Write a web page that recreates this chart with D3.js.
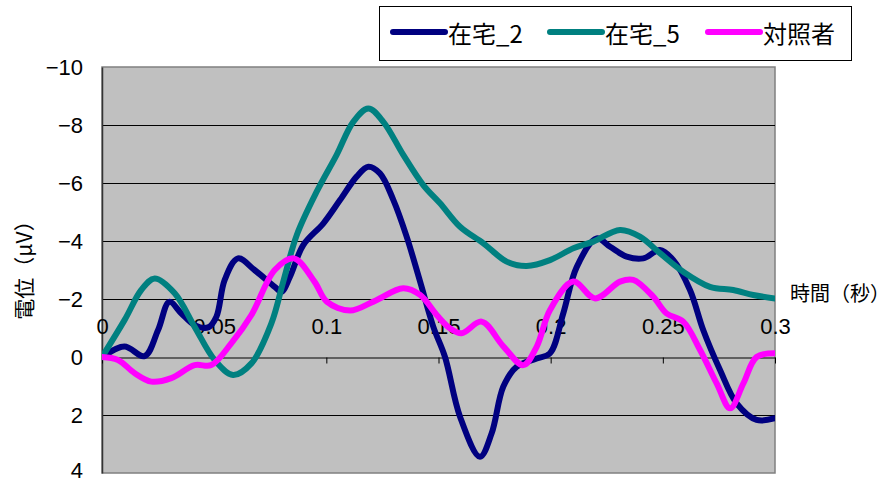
<!DOCTYPE html>
<html>
<head>
<meta charset="utf-8">
<script src="https://cdn.jsdelivr.net/npm/d3@7"></script>
<style>
  body { margin: 0; background: #fff; }
  svg { display: block; }
</style>
</head>
<body>
<svg id="chart" width="892" height="483"></svg>
<script>
// Series labels and colours
const seriesNames = ["在宅_2", "在宅_5", "対照者"];
const seriesColors = ["#000080", "#008080", "#ff00ff"];

// 在宅_2 : time (s) / potential (µV)
const times2 = [0, 0.010, 0.019, 0.025, 0.030, 0.0354, 0.0413, 0.0473, 0.051, 0.0547, 0.0606, 0.068, 0.077, 0.080,
  0.0838, 0.0897, 0.0987, 0.1061, 0.1135, 0.1187, 0.1239, 0.1299, 0.1358, 0.1418, 0.1477, 0.1529, 0.1596,
  0.1685, 0.1737, 0.1789, 0.1849, 0.1938, 0.1997, 0.2056, 0.2116, 0.2205, 0.2265, 0.2339, 0.2413, 0.2487,
  0.2547, 0.2621, 0.268, 0.2755, 0.2829, 0.2918, 0.300];
const vals2 = [0, -0.36, -0.03, -0.93, -1.9, -1.5, -1.1, -1.02, -1.39, -2.66, -3.4, -3.0, -2.42, -2.25,
  -2.77, -3.86, -4.61, -5.41, -6.22, -6.56, -6.33, -5.41, -4.15, -2.6, -1.04, 0.0, 2.06,
  3.44, 2.63, 1.02, 0.33, 0.05, -0.13, -1.5, -3.1, -4.09, -3.8, -3.46, -3.4, -3.69,
  -3.34, -2.31, -0.93, 0.45, 1.6, 2.17, 2.11];

// 在宅_5
const times5 = [0, 0.0101, 0.0175, 0.0235, 0.0324, 0.0413, 0.0502, 0.0584, 0.0666, 0.0755, 0.0808, 0.0868,
  0.0957, 0.1046, 0.112, 0.1187, 0.1254, 0.1343, 0.1432, 0.1507, 0.1596, 0.170, 0.1804, 0.1893, 0.1997,
  0.2101, 0.219, 0.2309, 0.2398, 0.2487, 0.2591, 0.271, 0.2814, 0.2903, 0.300];
const vals5 = [0, -1.28, -2.31, -2.71, -2.2, -1.04, 0.1, 0.62, 0.22, -1.16, -2.6, -4.2,
  -5.7, -6.97, -8.11, -8.57, -8.11, -6.97, -5.93, -5.3, -4.49, -3.92, -3.29, -3.14, -3.34,
  -3.75, -3.98, -4.38, -4.15, -3.58, -2.94, -2.42, -2.31, -2.14, -2.02];

// 対照者
const timesCtrl = [0, 0.0071, 0.0146, 0.022, 0.0309, 0.0413, 0.0487, 0.0576, 0.0666, 0.077, 0.0855, 0.0947,
  0.1002, 0.1106, 0.121, 0.1343, 0.1418, 0.1492, 0.1551, 0.1603, 0.1692, 0.179, 0.1878, 0.1938, 0.1997,
  0.2101, 0.2198, 0.2309, 0.2368, 0.2457, 0.2517, 0.2591, 0.2666, 0.274, 0.280, 0.2859, 0.2918, 0.300];
const valsCtrl = [0, 0.1, 0.56, 0.85, 0.73, 0.28, 0.28, -0.47, -1.45, -3.0, -3.4, -2.6,
  -1.91, -1.6, -1.91, -2.37, -2.14, -1.45, -0.99, -0.82, -1.22, -0.36, 0.28, -0.36, -1.62,
  -2.6, -2.02, -2.6, -2.66, -2.08, -1.5, -1.22, -0.24, 0.91, 1.77, 0.91, 0, -0.13];

// Axis ticks
const xTicks = [0, 0.05, 0.1, 0.15, 0.2, 0.25, 0.3];
const xTickLabels = ["0", "0.05", "0.1", "0.15", "0.2", "0.25", "0.3"];
const yTicks = [-10, -8, -6, -4, -2, 0, 2, 4];
const yTickLabels = ["−10", "−8", "−6", "−4", "−2", "0", "2", "4"];

const xTitle = "時間（秒）";
const yTitle = "電位（μV）";

const series = [
  { name: seriesNames[0], color: seriesColors[0], t: times2, v: vals2 },
  { name: seriesNames[1], color: seriesColors[1], t: times5, v: vals5 },
  { name: seriesNames[2], color: seriesColors[2], t: timesCtrl, v: valsCtrl }
];

const svg = d3.select("#chart");
const plot = { left: 102, right: 775, top: 67, bottom: 473 };

const x = d3.scaleLinear().domain([0, 0.3]).range([plot.left, plot.right]);
const y = d3.scaleLinear().domain([-10, 4]).range([plot.top, plot.bottom]);

const fontLatin = "'Liberation Sans', Arial, sans-serif";
const fontCJK = "'Noto Sans CJK JP', 'Noto Sans', sans-serif";

// Plot background
svg.append("rect")
  .attr("x", plot.left).attr("y", plot.top)
  .attr("width", plot.right - plot.left).attr("height", plot.bottom - plot.top)
  .attr("fill", "#c0c0c0")
  .attr("stroke", "#808080").attr("stroke-width", 1.5);

// Horizontal gridlines
svg.append("g")
  .selectAll("line")
  .data(yTicks.filter(d => d !== -10 && d !== 4 && d !== 0))
  .join("line")
  .attr("x1", plot.left).attr("x2", plot.right)
  .attr("y1", d => Math.round(y(d)) + 0.5).attr("y2", d => Math.round(y(d)) + 0.5)
  .attr("stroke", "#000").attr("stroke-width", 1);

// Y axis
const yAxis = svg.append("g")
  .attr("transform", `translate(${plot.left},0)`)
  .call(d3.axisLeft(y).tickValues(yTicks).tickFormat((d, i) => yTickLabels[i]).tickSize(0).tickPadding(19));
yAxis.select(".domain").attr("stroke", "#333").attr("stroke-width", 1.5);
yAxis.selectAll("text")
  .attr("font-family", fontLatin).attr("font-size", 22).attr("fill", "#000")
  .attr("dy", d => d === 4 ? "0.2em" : "0.36em");

// X axis along the zero line, labels above it
const xAxis = svg.append("g")
  .attr("transform", `translate(0,${Math.round(y(0)) + 0.5})`)
  .call(d3.axisBottom(x).tickValues(xTicks).tickFormat((d, i) => xTickLabels[i]).tickSize(6).tickSizeOuter(0));
xAxis.select(".domain").attr("stroke", "#000").attr("stroke-width", 1);
xAxis.selectAll(".tick line").attr("stroke", "#000");
xAxis.selectAll("text")
  .attr("font-family", fontLatin).attr("font-size", 22).attr("fill", "#000")
  .attr("y", -24).attr("dy", 0);

// Lines
svg.append("clipPath").attr("id", "plotClip")
  .append("rect")
  .attr("x", plot.left).attr("y", plot.top)
  .attr("width", plot.right - plot.left).attr("height", plot.bottom - plot.top);

const line = d3.line()
  .x(d => x(d[0]))
  .y(d => y(d[1]))
  .curve(d3.curveCatmullRom.alpha(0.5));

svg.append("g").attr("clip-path", "url(#plotClip)")
  .selectAll("path")
  .data(series)
  .join("path")
  .attr("d", s => line(s.t.map((t, i) => [t, s.v[i]])))
  .attr("fill", "none")
  .attr("stroke", s => s.color)
  .attr("stroke-width", 6)
  .attr("stroke-linejoin", "round")
  .attr("stroke-linecap", "round");

// Axis titles
svg.append("text")
  .attr("transform", "translate(23,265) rotate(-90)")
  .attr("text-anchor", "middle").attr("dominant-baseline", "central")
  .attr("font-family", fontCJK).attr("font-size", 21).attr("fill", "#000")
  .text(yTitle);

svg.append("text")
  .attr("x", 790).attr("y", 292)
  .attr("dominant-baseline", "central")
  .attr("font-family", fontCJK).attr("font-size", 20).attr("fill", "#000")
  .text(xTitle);

// Legend
const legend = svg.append("g");
legend.append("rect")
  .attr("x", 379.5).attr("y", 6.5).attr("width", 472).attr("height", 54)
  .attr("fill", "#fff").attr("stroke", "#000").attr("stroke-width", 1);

const legendX = [393, 550, 708];
series.forEach((s, i) => {
  const g = legend.append("g").attr("transform", `translate(${legendX[i]},32)`);
  g.append("line")
    .attr("x1", 0).attr("x2", 52).attr("y1", 0).attr("y2", 0)
    .attr("stroke", s.color).attr("stroke-width", 6).attr("stroke-linecap", "round");
  g.append("text")
    .attr("x", 55).attr("y", 0)
    .attr("dominant-baseline", "central")
    .attr("font-family", fontCJK).attr("font-size", 24).attr("fill", "#000")
    .text(s.name);
});
</script>
</body>
</html>
